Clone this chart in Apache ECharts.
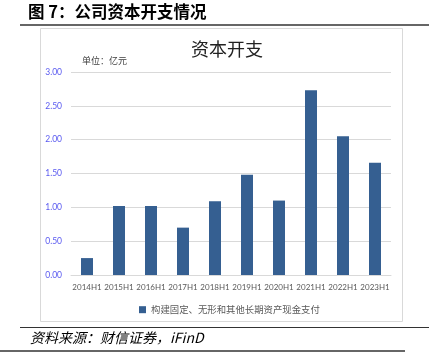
<!DOCTYPE html>
<html><head><meta charset="utf-8">
<script src="https://cdn.jsdelivr.net/npm/echarts@6/dist/echarts.min.js"></script>
<style>html,body{margin:0;padding:0;background:#fff}#c{width:429px;height:361px}</style>
</head><body><div id="c"></div>
<script>
const categories = ['2014H1','2015H1','2016H1','2017H1','2018H1','2019H1','2020H1','2021H1','2022H1','2023H1'];
const capex = [0.25, 1.02, 1.02, 0.70, 1.09, 1.48, 1.10, 2.73, 2.05, 1.66];
const seriesName = '构建固定、无形和其他长期资产现金支付';
const yTicks = {min: 0, max: 3, interval: 0.5};

const chart = echarts.init(document.getElementById('c'), null, {renderer: 'canvas'});
chart.setOption({
  backgroundColor: '#fff',
  animation: false,
  graphic: [
    {type: 'text', left: 28, top: 3, style: {text: '图 7：公司资本开支情况', font: 'bold 16.5px "Noto Sans CJK SC"', fill: '#000'}},
    {type: 'line', shape: {x1: 20, y1: 25, x2: 429, y2: 25}, style: {stroke: '#333', lineWidth: 1.5}},
    {type: 'rect', shape: {x: 40.5, y: 28.5, width: 362, height: 293}, style: {fill: 'none', stroke: '#d9d9d9', lineWidth: 1}},
    {type: 'text', left: 82, top: 56, style: {text: '单位：亿元', font: '9px "Noto Sans CJK SC"', fill: '#404040'}},
    {type: 'line', shape: {x1: 20, y1: 327.5, x2: 429, y2: 327.5}, style: {stroke: '#333', lineWidth: 1}},
    {type: 'text', left: 30, top: 331, style: {text: '资料来源：财信证券，iFinD', font: 'italic 14px "Noto Sans CJK SC"', fill: '#000'}},
    {type: 'line', shape: {x1: 0, y1: 351, x2: 405, y2: 351}, style: {stroke: '#333', lineWidth: 1.5}}
  ],
  title: {text: '资本开支', left: 222, top: 35, textAlign: 'center',
    textStyle: {fontFamily: 'Noto Sans CJK SC', fontSize: 18, fontWeight: 'normal', color: '#222'}},
  legend: {data: [seriesName], top: 300, left: 134, itemWidth: 7, itemHeight: 7, icon: 'rect', itemGap: 4,
    textStyle: {fontFamily: 'Noto Sans CJK SC', fontSize: 9.4, color: '#595959'}},
  grid: {left: 71, top: 72, width: 320, height: 203},
  xAxis: {type: 'category', data: categories,
    axisLine: {lineStyle: {color: '#d9d9d9'}}, axisTick: {show: false},
    axisLabel: {color: '#595959', fontFamily: 'Lato', fontSize: 8, margin: 8, interval: 0}},
  yAxis: {type: 'value', min: yTicks.min, max: yTicks.max, interval: yTicks.interval,
    axisLine: {show: false}, axisTick: {show: false},
    axisLabel: {color: '#5a5af0', fontFamily: 'Lato', fontSize: 8.5, margin: 9, formatter: v => v.toFixed(2)},
    splitLine: {lineStyle: {color: '#d9d9d9'}}},
  series: [{name: seriesName, type: 'bar', data: capex, barWidth: 12,
    itemStyle: {color: '#355f91'}}]
});
</script></body></html>
